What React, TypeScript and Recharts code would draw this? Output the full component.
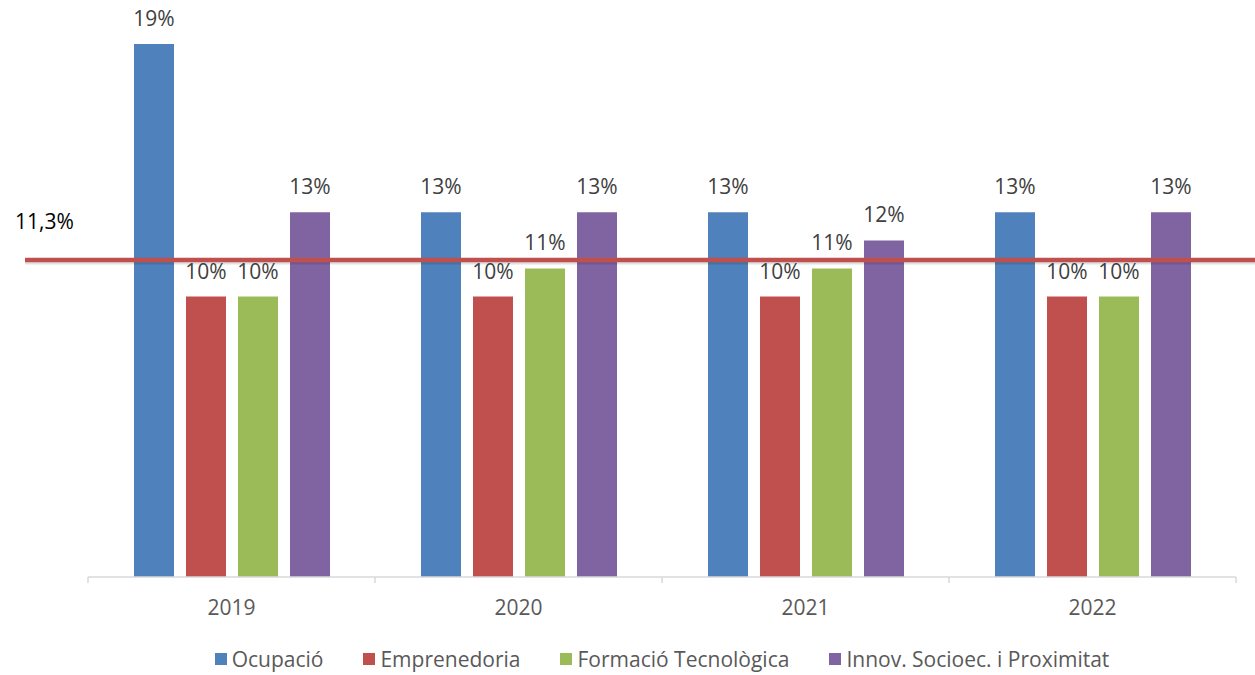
import React from 'react';
import { BarChart, Bar, XAxis, YAxis, ReferenceLine, Legend, LabelList } from 'recharts';

const years = ['2019', '2020', '2021', '2022'];
const ocupacio = [19, 13, 13, 13];
const emprenedoria = [10, 10, 10, 10];
const formacio = [10, 11, 11, 10];
const innovacio = [13, 13, 12, 13];
const average = 11.3;
const averageLabel = '11,3%';
const seriesNames = ['Ocupació', 'Emprenedoria', 'Formació Tecnològica', 'Innov. Socioec. i Proximitat'];
const seriesKeys = ['ocupacio', 'emprenedoria', 'formacio', 'innovacio'];
const colors = ['#4F81BD', '#C0504D', '#9BBB59', '#8064A2'];

const data = years.map((year, i) => ({
  year,
  ocupacio: ocupacio[i],
  emprenedoria: emprenedoria[i],
  formacio: formacio[i],
  innovacio: innovacio[i],
}));

const FONT = "'Open Sans', 'Liberation Sans', sans-serif";
const TICK_SIZE = 6;
const TICK_MARGIN = 17;
const AXIS_COLOR = '#D9D9D9';

const AxisTick = (props: any) => {
  const { x, y, payload, index, visibleTicksCount, width } = props;
  const half = payload && payload.offset ? payload.offset : width / visibleTicksCount / 2;
  const axisY = y - TICK_MARGIN - TICK_SIZE;
  return (
    <g>
      <line x1={x - half} x2={x - half} y1={axisY} y2={axisY + TICK_SIZE} stroke={AXIS_COLOR} strokeWidth={1.5} />
      {index === visibleTicksCount - 1 && (
        <line x1={x + half} x2={x + half} y1={axisY} y2={axisY + TICK_SIZE} stroke={AXIS_COLOR} strokeWidth={1.5} />
      )}
      <text x={x} y={y} dy="0.71em" textAnchor="middle" fill="#595959" fontSize={21} fontFamily={FONT}>
        {payload.value}
      </text>
    </g>
  );
};

const AvgLine = (props: any) => {
  const { x1, y1, x2, y2 } = props;
  const left = x1 - 63;
  const right = x2 + 19;
  return (
    <g>
      <line x1={left} y1={y1 + 2.5} x2={right} y2={y2 + 2.5} stroke="#000" strokeOpacity={0.12} strokeWidth={4} />
      <line x1={left} y1={y1} x2={right} y2={y2} stroke="#C0504D" strokeWidth={4.5} />
      <text x={left - 10} y={y1 - 31} fontSize={21} fill="#000" fontFamily={FONT}>
        {averageLabel}
      </text>
    </g>
  );
};

const LegendContent = () => (
  <div
    style={{
      display: 'flex',
      justifyContent: 'center',
      alignItems: 'center',
      height: 28,
      gap: 40,
      fontFamily: FONT,
      fontSize: 21,
      color: '#595959',
      whiteSpace: 'nowrap',
    }}
  >
    {seriesNames.map((n, i) => (
      <div key={n} style={{ display: 'flex', alignItems: 'center' }}>
        <span style={{ display: 'inline-block', width: 12, height: 12, background: colors[i], marginRight: 5 }} />
        <span>{n}</span>
      </div>
    ))}
  </div>
);

export default function App() {
  return (
    <div style={{ position: 'absolute', left: 0, top: 0, width: 1255, height: 675, background: '#fff', fontFamily: FONT }}>
      <BarChart
        width={1255}
        height={675}
        data={data}
        margin={{ top: 16, right: 19, left: 88, bottom: 2 }}
        barSize={40}
        barGap={12}
      >
        <XAxis
          dataKey="year"
          height={68}
          axisLine={{ stroke: AXIS_COLOR, strokeWidth: 1.5 }}
          tickLine={false}
          tickSize={TICK_SIZE}
          tickMargin={TICK_MARGIN}
          tick={<AxisTick />}
          interval={0}
        />
        <YAxis hide domain={[0, 20]} />
        {seriesKeys.map((k, i) => (
          <Bar key={k} dataKey={k} name={seriesNames[i]} fill={colors[i]} isAnimationActive={false}>
            <LabelList
              dataKey={k}
              position="top"
              offset={18}
              formatter={(v: any) => `${v}%`}
              fill="#404040"
              fontSize={21}
              fontFamily={FONT}
            />
          </Bar>
        ))}
        <ReferenceLine y={average} shape={<AvgLine />} ifOverflow="visible" />
        <Legend verticalAlign="bottom" content={<LegendContent />} />
      </BarChart>
    </div>
  );
}
